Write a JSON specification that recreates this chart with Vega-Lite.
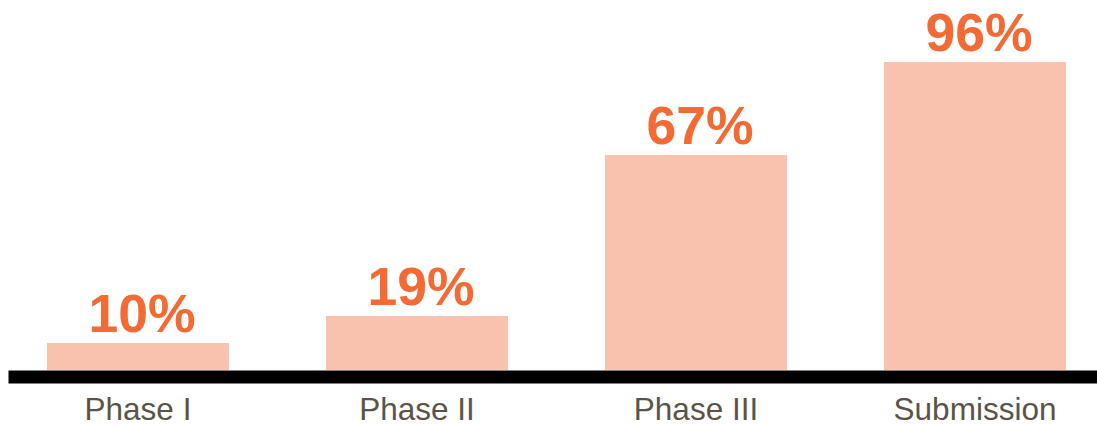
{
  "$schema": "https://vega.github.io/schema/vega-lite/v6.json",
  "autosize": "none",
  "padding": {"left": 8, "top": 0, "right": 0, "bottom": 56},
  "width": 1089,
  "height": 370,
  "background": "white",
  "config": {"view": {"stroke": null}},
  "data": {
    "values": [
      {"phase": "Phase I", "value": 8.4, "label": "10%"},
      {"phase": "Phase II", "value": 16.8, "label": "19%"},
      {"phase": "Phase III", "value": 67.0, "label": "67%"},
      {"phase": "Submission", "value": 96, "label": "96%"}
    ]
  },
  "encoding": {
    "x": {
      "field": "phase",
      "type": "nominal",
      "sort": null,
      "scale": {"paddingInner": 0.3477, "paddingOuter": 0.1254, "align": 0.557},
      "axis": {
        "title": null,
        "domainColor": "#000000",
        "domainWidth": 13,
        "domainCap": "butt",
        "offset": 6.5,
        "ticks": false,
        "labelAngle": 0,
        "labelFont": "Liberation Sans",
        "labelFontSize": 31.5,
        "labelColor": "#5A5448",
        "labelBaseline": "alphabetic",
        "labelPadding": 42.5
      }
    },
    "y": {
      "field": "value",
      "type": "quantitative",
      "scale": {"domain": [0, 115.3], "nice": false},
      "axis": null
    }
  },
  "layer": [
    {"mark": {"type": "bar", "color": "#F8C2AE"}},
    {
      "mark": {
        "type": "text",
        "baseline": "alphabetic",
        "dy": -11,
        "dx": 4,
        "font": "Liberation Sans",
        "fontWeight": "bold",
        "fontSize": 53.5,
        "color": "#F26B35"
      },
      "encoding": {"text": {"field": "label"}}
    }
  ]
}
